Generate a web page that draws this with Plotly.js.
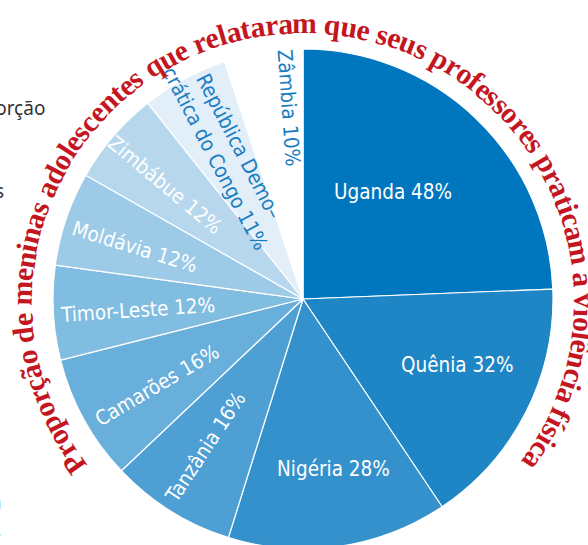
<!DOCTYPE html>
<html>
<head>
<meta charset="utf-8">
<script src="https://cdn.plot.ly/plotly-3.0.1.min.js"></script>
<style>
html,body{margin:0;padding:0;background:#fff;overflow:hidden;}
#chart{width:588px;height:560px;}
</style>
</head>
<body>
<div id="chart"></div>
<script>
// ---- data ----
const countries = ["Uganda","Quênia","Nigéria","Tanzânia","Camarões","Timor-Leste","Moldávia","Zimbábue","República Democrática do Congo","Zâmbia"];
const percent = [48,32,28,16,16,12,12,12,11,10];
const sliceLabels = ["Uganda 48%","Quênia 32%","Nigéria 28%","Tanzânia 16%","Camarões 16%","Timor-Leste 12%","Moldávia 12%","Zimbábue 12%","República Demo–<br>crática do Congo 11%","Zâmbia 10%"];
const arcTitle = "Proporção de meninas adolescentes que relataram que seus professores praticam a violência física";

// ---- style ----
const sliceColors = ["#0076be","#1f86c6","#3591cc","#4ea0d4","#68afdb","#81bce1","#9ccae7","#b7d7ec","#e3eff8","#ffffff"];
const labelColors = ["#fff","#fff","#fff","#fff","#fff","#fff","#fff","#fff","#1a7dc2","#1a7dc2"];
const labelRadius = [140,168,173,177,169,166,176,179,165,192];
const labelAngleShift = [-4,-4,-2,1.5,-1.7,-0.5,-1.6,-1,0.8,5];
const labelRadial = [false,false,false,true,true,true,true,true,true,true];
const red = "#c4161f";
const W = 588, H = 560, ML = 53, MT = 49, MR = 35, MB = 11;
const PW = W - ML - MR, PH = H - MT - MB; // 500 x 500
const labelFont = "Liberation Sans Narrow, DejaVu Sans Condensed, Roboto Condensed, sans-serif";

function toPaper(dxPx, dyPxDown){ return {x: 0.5 + dxPx/PW, y: 0.5 - dyPxDown/PH}; }

const annotations = [];
// slice labels, angles derived from the values
const total = percent.reduce((a,b)=>a+b,0);
let cum = 0;
percent.forEach((v,i)=>{
  const mid = (cum + v/2)/total*360; cum += v;
  const th = mid + labelAngleShift[i];
  const r = labelRadius[i];
  const rad = th*Math.PI/180;
  const p = toPaper(r*Math.sin(rad), -r*Math.cos(rad));
  annotations.push({
    x:p.x, y:p.y, xref:"paper", yref:"paper", showarrow:false,
    xanchor:"center", yanchor:"middle",
    text: sliceLabels[i],
    textangle: labelRadial[i] ? (th-270) : 0,
    font:{family:labelFont, size:20.5, color:labelColors[i]}
  });
});

// curved title, character by character along a slightly oval path around the pie
(function(){
  const c = document.createElement("canvas").getContext("2d");
  const fam = "Liberation Serif";
  c.font = "bold 100px '" + fam + "'";
  const chars = Array.from(arcTitle);
  const w = chars.map(ch => c.measureText(ch).width/100);
  const sum = w.reduce((a,b)=>a+b,0);
  const A = 281, B = 279, CY = 3;           // semi-axes (px) and centre offset (px, down)
  const phi0 = -127.3*Math.PI/180, phi1 = 126.4*Math.PI/180;
  const N = 4000, tbl = [0];
  const pt = f => [A*Math.sin(f), CY - B*Math.cos(f)];
  for (let k=1;k<=N;k++){
    const fa = phi0 + (phi1-phi0)*(k-1)/N, fb = phi0 + (phi1-phi0)*k/N;
    const pa = pt(fa), pb = pt(fb);
    tbl.push(tbl[k-1] + Math.hypot(pb[0]-pa[0], pb[1]-pa[1]));
  }
  const L = tbl[N];
  const fs = L/sum;
  function phiAt(s){
    let lo=0, hi=N;
    while (hi-lo>1){ const m=(lo+hi)>>1; if (tbl[m] < s) lo=m; else hi=m; }
    const t = (s - tbl[lo])/((tbl[hi]-tbl[lo])||1);
    return phi0 + (phi1-phi0)*(lo+t)/N;
  }
  let s = 0;
  chars.forEach((ch,i)=>{
    const adv = w[i]*fs;
    const centerS = s + adv/2; s += adv;
    if (ch === " ") return;
    const f = phiAt(centerS);
    const p0 = pt(f);
    const ang = Math.atan2(B*Math.sin(f), A*Math.cos(f))*180/Math.PI;
    const p = toPaper(p0[0], p0[1]);
    annotations.push({
      x:p.x, y:p.y, xref:"paper", yref:"paper", showarrow:false,
      xanchor:"center", yanchor:"middle", textangle: ang,
      text: ch, borderpad:0,
      font:{family:fam, size:fs, color:red, weight:"bold"}
    });
  });
})();

// cut-off fragments of surrounding page text at the left edge (pixel positions)
const fragFont = {family:"Noto Sans, Open Sans, sans-serif", size:19, color:"#333333"};
[["Proporção",47,108],["países",6,191],["em",3,502],["vs",3,531]].forEach(f=>{
  annotations.push({x:(f[1]-ML)/PW, y:1-(f[2]-MT)/PH, xref:"paper", yref:"paper", showarrow:false,
    xanchor:"right", yanchor:"middle", text:f[0], font:fragFont});
});

const trace = {
  type:"pie", labels:countries, values:percent, sort:false, direction:"clockwise", rotation:0,
  marker:{colors:sliceColors, line:{color:"#ffffff", width:1.2}},
  textinfo:"none", hoverinfo:"label+value", showlegend:false
};

Plotly.newPlot("chart",[trace],{
  width:W, height:H, margin:{l:ML,r:MR,t:MT,b:MB,pad:0},
  paper_bgcolor:"#fff", plot_bgcolor:"#fff", showlegend:false,
  annotations:annotations
},{displayModeBar:false, staticPlot:true});
</script>
</body>
</html>
